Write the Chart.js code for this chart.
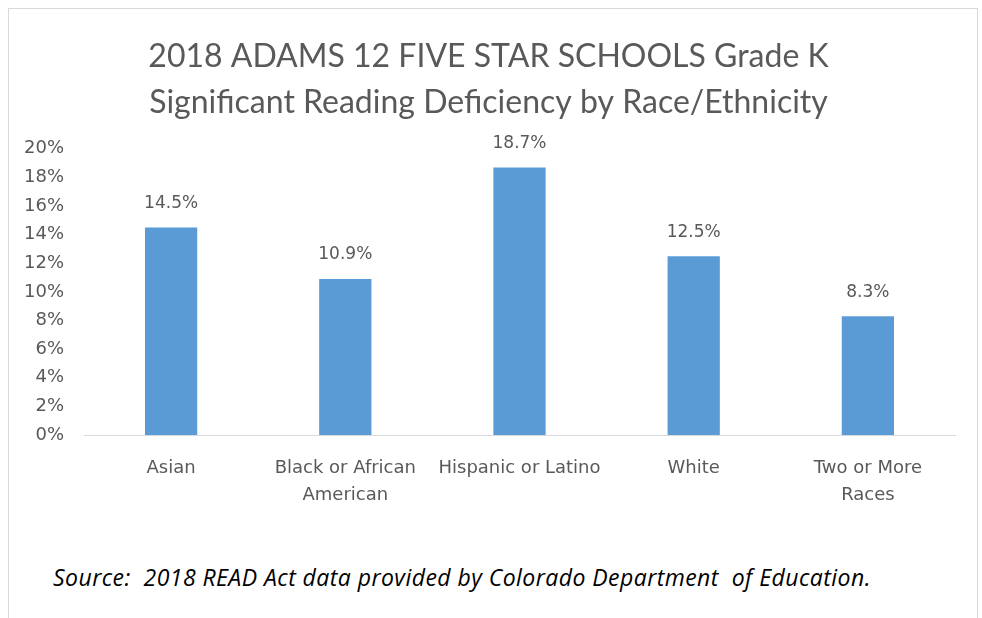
<!DOCTYPE html>
<html>
<head>
<meta charset="utf-8">
<script src="https://cdn.jsdelivr.net/npm/chart.js@4.4.0/dist/chart.umd.min.js"></script>
<style>
  html, body { margin: 0; padding: 0; background: #fff; }
  #frame {
    position: absolute; left: 8px; top: 8px; width: 970px; height: 620px;
    border: 1px solid #d9d9d9; box-sizing: border-box; background: #fff;
  }
  #wrap { position: absolute; left: 0; top: 0; width: 968px; height: 520px; }
  #source {
    position: absolute; left: 44px; top: 552px;
    font-family: "Open Sans", sans-serif; font-style: italic; font-size: 23px; color: #000;
    letter-spacing: 0.45px;
  }
</style>
</head>
<body>
<div id="frame">
  <div id="wrap"><canvas id="readChart"></canvas></div>
  <div id="source">Source:&nbsp; 2018 READ Act data provided by Colorado Department&nbsp; of Education.</div>
</div>
<script>
  // Grade K significant reading deficiency, percent of students
  const groups = [['Asian'], ['Black or African', 'American'], ['Hispanic or Latino'], ['White'], ['Two or More', 'Races']];
  const deficiency = [14.5, 10.9, 18.7, 12.5, 8.3];
  const yTicks = [0, 2, 4, 6, 8, 10, 12, 14, 16, 18, 20];

  const textGray = '#595959';
  const tickFont = '"DejaVu Sans", sans-serif';

  // simple value labels above each bar
  const barLabels = {
    id: 'barLabels',
    afterDatasetsDraw(chart) {
      const ctx = chart.ctx;
      const meta = chart.getDatasetMeta(0);
      ctx.save();
      ctx.font = '17px ' + tickFont;
      ctx.fillStyle = textGray;
      ctx.textAlign = 'center';
      ctx.textBaseline = 'middle';
      meta.data.forEach((bar, i) => {
        ctx.fillText(deficiency[i].toFixed(1) + '%', bar.x, bar.y - 24);
      });
      ctx.restore();
    }
  };

  const ctx1 = document.getElementById('readChart').getContext('2d');
  new Chart(ctx1, {
    type: 'bar',
    data: {
      labels: groups,
      datasets: [{
        label: 'Significant Reading Deficiency',
        data: deficiency,
        backgroundColor: '#5b9bd5',
        categoryPercentage: 1,
        barPercentage: 0.3
      }]
    },
    options: {
      responsive: true,
      maintainAspectRatio: false,
      animation: false,
      layout: { padding: { left: 13, right: 22, top: 10, bottom: 0 } },
      scales: {
        y: {
          min: 0,
          max: 20,
          afterBuildTicks: axis => { axis.ticks = yTicks.map(v => ({ value: v })); },
          afterFit: axis => { axis.width = 62; },
          grid: { display: false },
          border: { display: false },
          ticks: {
            color: textGray,
            font: { family: tickFont, size: 18 },
            padding: 12,
            callback: v => v + '%'
          }
        },
        x: {
          afterFit: axis => { axis.height = 94; },
          grid: { display: false },
          border: { display: true, color: '#d9d9d9' },
          ticks: {
            color: textGray,
            font: { family: tickFont, size: 18, lineHeight: 1.5 },
            padding: 12,
            maxRotation: 0
          }
        }
      },
      plugins: {
        legend: { display: false },
        tooltip: { enabled: false },
        title: {
          display: true,
          text: ['2018 ADAMS 12 FIVE STAR SCHOOLS Grade K', 'Significant Reading Deficiency by Race/Ethnicity'],
          color: textGray,
          font: { family: 'Lato, sans-serif', size: 32, weight: 'normal', lineHeight: 1.45 },
          padding: { top: 14, bottom: 23 }
        }
      }
    },
    plugins: [barLabels]
  });
</script>
</body>
</html>
